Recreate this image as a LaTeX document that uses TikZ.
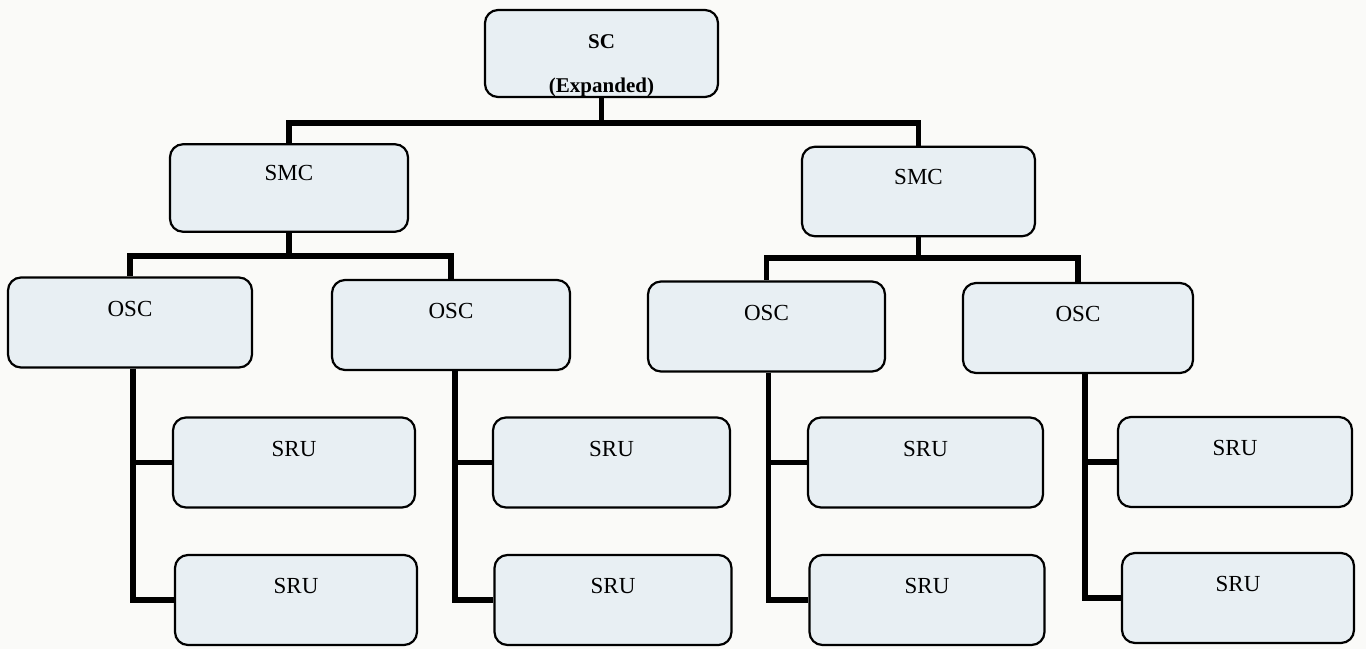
\documentclass[tikz,border=0pt]{standalone}
\usepackage{fontspec}
\setmainfont{Liberation Serif}
\definecolor{boxfill}{RGB}{232,239,243}
\definecolor{paper}{RGB}{250,250,248}
\begin{document}
\begin{tikzpicture}[x=1pt,y=-1pt,
  unit/.style={draw=black, line width=2.2pt, rounded corners=13pt, fill=boxfill,
    inner sep=0pt, font=\fontsize{23}{27}\selectfont,
    text height=38.5pt, text depth=51.5pt},
  conn/.style={draw=black, line width=5.5pt}]
  % page
  \fill[paper] (0,0) rectangle (1366,649);
  \useasboundingbox (0,0) rectangle (1366,649);

  % top level
  \node[unit, minimum width=233pt, text height=38pt, text depth=49pt,
        font=\bfseries\fontsize{21}{25}\selectfont] (sc) at (601.5,53.5) {SC};
  \node[anchor=base, inner sep=0pt, font=\bfseries\fontsize{21}{25}\selectfont]
        (scx) at (601.5,92) {(Expanded)};

  % second level
  \node[unit, minimum width=238pt, text height=36pt] (smcL) at (289,188) {SMC};
  \node[unit, minimum width=233pt, text height=38pt] (smcR) at (918.5,191.5) {SMC};

  % third level
  \node[unit, minimum width=244pt] (oscA) at (130,322.5) {OSC};
  \node[unit, minimum width=238pt] (oscB) at (451,325) {OSC};
  \node[unit, minimum width=237pt] (oscC) at (766.5,326.5) {OSC};
  \node[unit, minimum width=230pt] (oscD) at (1078,328) {OSC};

  % leaf level
  \node[unit, minimum width=242pt] (sruA1) at (294,462.5) {SRU};
  \node[unit, minimum width=242pt] (sruA2) at (296,600) {SRU};
  \node[unit, minimum width=237pt] (sruB1) at (611.5,462.5) {SRU};
  \node[unit, minimum width=237pt] (sruB2) at (613,600) {SRU};
  \node[unit, minimum width=235pt] (sruC1) at (925.5,462.5) {SRU};
  \node[unit, minimum width=235pt] (sruC2) at (927,600) {SRU};
  \node[unit, minimum width=234pt] (sruD1) at (1235,462) {SRU};
  \node[unit, minimum width=232pt] (sruD2) at (1238,598) {SRU};

  % bus lines
  \coordinate (busTop) at (0,123);
  \coordinate (busL) at (0,256);
  \coordinate (busR) at (0,258);

  \draw[conn] (sc.south) -- (sc.south |- busTop) -| (smcL.north);
  \draw[conn] (sc.south) -- (sc.south |- busTop) -| (smcR.north);

  \draw[conn] (smcL.south) -- (smcL.south |- busL) -| (oscA.north);
  \draw[conn] (smcL.south) -- (smcL.south |- busL) -| (oscB.north);
  \draw[conn] (smcR.south) -- (smcR.south |- busR) -| (oscC.north);
  \draw[conn] (smcR.south) -- (smcR.south |- busR) -| (oscD.north);

  \draw[conn] ([xshift=3pt]oscA.south) |- (sruA1.west);
  \draw[conn] ([xshift=3pt]oscA.south) |- (sruA2.west);
  \draw[conn] ([xshift=4pt]oscB.south) |- (sruB1.west);
  \draw[conn] ([xshift=4pt]oscB.south) |- (sruB2.west);
  \draw[conn] ([xshift=2pt]oscC.south) |- (sruC1.west);
  \draw[conn] ([xshift=2pt]oscC.south) |- (sruC2.west);
  \draw[conn] ([xshift=7pt]oscD.south) |- (sruD1.west);
  \draw[conn] ([xshift=7pt]oscD.south) |- (sruD2.west);
\end{tikzpicture}
\end{document}
